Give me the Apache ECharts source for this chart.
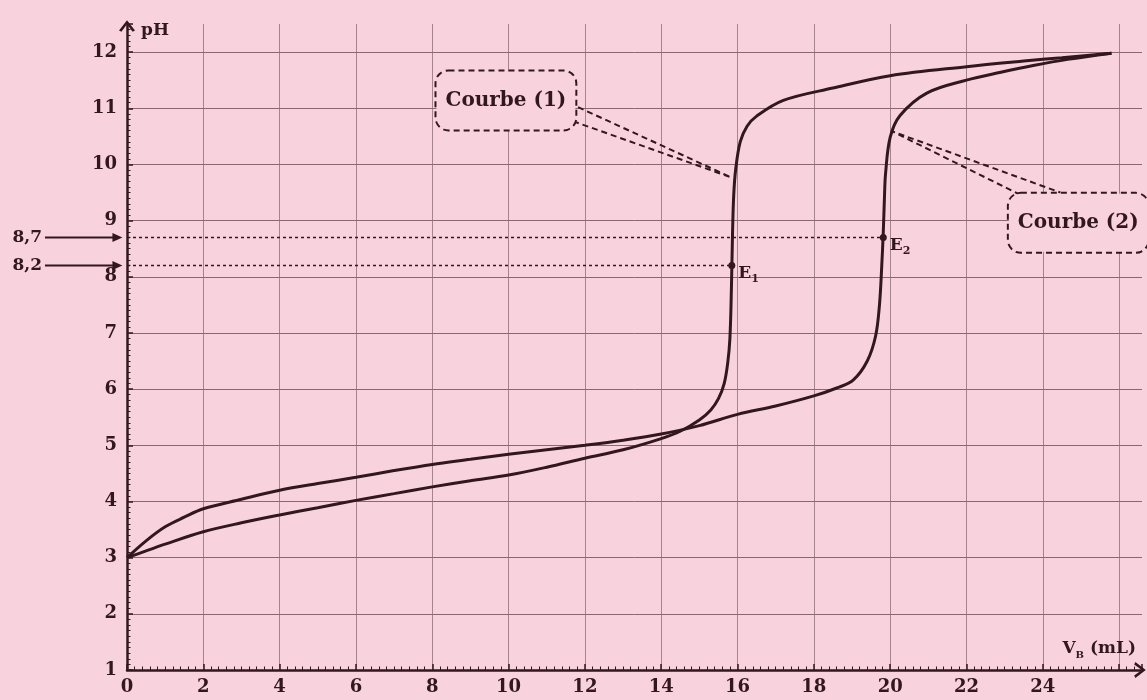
<!DOCTYPE html>
<html><head><meta charset="utf-8">
<script src="https://cdn.jsdelivr.net/npm/echarts@6/dist/echarts.min.js"></script>
<style>html,body{margin:0;padding:0;background:#f8d3dd}#c{width:1147px;height:700px}</style>
</head><body><div id="c"></div>
<script>
// ---- data ----
const curve1V  = [0, 0.5, 1, 2, 3, 4, 5, 6, 7, 8, 9, 10, 11, 12, 13, 14, 14.5, 15, 15.3, 15.5, 15.65, 15.74, 15.8, 15.84, 15.87, 15.9, 15.95, 16.07, 16.25, 16.5, 17.2, 18.5, 20, 22, 23.5, 24.5, 25.8];
const curve1PH = [3.0, 3.12, 3.24, 3.46, 3.62, 3.76, 3.89, 4.02, 4.14, 4.26, 4.37, 4.47, 4.61, 4.77, 4.92, 5.12, 5.25, 5.45, 5.63, 5.83, 6.1, 6.45, 6.9, 7.8, 8.8, 9.45, 9.9, 10.4, 10.68, 10.86, 11.14, 11.36, 11.58, 11.74, 11.84, 11.9, 11.98];
const curve2V  = [0, 0.5, 1, 1.5, 2, 3, 4, 5, 6, 7, 8, 9, 10, 11, 12, 13, 14, 15, 16, 17, 18, 18.6, 19.03, 19.4, 19.62, 19.72, 19.78, 19.82, 19.85, 19.88, 20.0, 20.26, 20.96, 22, 22.9, 23.75, 24.65, 25.8];
const curve2PH = [3.0, 3.3, 3.55, 3.72, 3.87, 4.04, 4.2, 4.32, 4.43, 4.55, 4.66, 4.75, 4.84, 4.92, 5.0, 5.09, 5.2, 5.35, 5.55, 5.7, 5.88, 6.02, 6.16, 6.5, 6.95, 7.5, 8.2, 8.8, 9.4, 9.84, 10.48, 10.87, 11.27, 11.5, 11.64, 11.76, 11.87, 11.98];
const eqNames  = ['1', '2'];
const eqV      = [15.85, 19.82];
const eqPH     = [8.2, 8.7];
const eqTexts  = ['8,2', '8,7'];
const xTickLabels = ['0','2','4','6','8','10','12','14','16','18','20','22','24'];
const yTickLabels = ['1','2','3','4','5','6','7','8','9','10','11','12'];
const curveNames  = ['Courbe (1)', 'Courbe (2)'];
// callout anchors (data coordinates)
const calloutV  = [9.93, 24.93];
const calloutPH = [11.14, 8.96];
const leader1V  = [11.82, 15.83, 11.77];
const leader1PH = [11.02, 9.77, 10.75];
const leader2V  = [23.41, 20.05, 24.46];
const leader2PH = [9.46, 10.59, 9.5];
const arrowStartV = -2.15, arrowEndV = -0.12;

// ---- styling ----
const INK = '#33171f';
const BG = '#f8d3dd';
const FONT = 'DejaVu Serif';
const zip = (a, b) => a.map((v, i) => [v, b[i]]);
const chevron = 'path://M10,0 L20,13 L17,14.5 L10,5 L3,14.5 L0,13 Z';

const series = [];
// titration curves
[[curve1V, curve1PH], [curve2V, curve2PH]].forEach((c, i) => {
  series.push({
    type: 'line', name: curveNames[i], data: zip(c[0], c[1]),
    showSymbol: false, smooth: 0.35,
    lineStyle: { color: INK, width: 3 }, z: 5
  });
});
// dotted guides to equivalence points
eqV.forEach((v, i) => {
  series.push({
    type: 'line', data: [[0, eqPH[i]], [v, eqPH[i]]], showSymbol: false,
    lineStyle: { color: INK, width: 1.6, type: [3, 3] }, z: 4, silent: true
  });
});
// left arrows "8,7" / "8,2" pointing at the pH axis
series.push({
  type: 'custom', clip: false, silent: true, z: 6,
  data: eqPH.map((p, i) => [arrowStartV, arrowEndV, p, i]),
  renderItem: function (params, api) {
    const a = api.coord([api.value(0), api.value(2)]);
    const b = api.coord([api.value(1), api.value(2)]);
    const txt = eqTexts[api.value(3)];
    return {
      type: 'group',
      children: [
        { type: 'line', shape: { x1: a[0], y1: a[1], x2: b[0] - 8, y2: b[1] },
          style: { stroke: INK, lineWidth: 2 } },
        { type: 'polygon', shape: { points: [[b[0], b[1]], [b[0] - 10, b[1] - 4.5], [b[0] - 10, b[1] + 4.5]] },
          style: { fill: INK } },
        { type: 'text', x: a[0] - 3, y: a[1],
          style: { text: txt, fill: INK, font: 'bold 17px "' + FONT + '"', align: 'right', verticalAlign: 'middle' } }
      ]
    };
  }
});
// equivalence points
series.push({
  type: 'scatter', z: 7, silent: true,
  data: eqV.map((v, i) => ({ value: [v, eqPH[i]], name: eqNames[i] })),
  symbolSize: 7, itemStyle: { color: INK, opacity: 1 },
  label: {
    show: true, position: 'right', distance: 3, offset: [0, 8], opacity: 1,
    formatter: p => '{a|E}{b|' + p.name + '}',
    rich: {
      a: { fontFamily: FONT, fontWeight: 'bold', fontSize: 17, color: INK, lineHeight: 22, verticalAlign: 'middle' },
      b: { fontFamily: FONT, fontWeight: 'bold', fontSize: 11, color: INK, lineHeight: 22, verticalAlign: 'bottom' }
    }
  }
});
// leader lines
[[leader1V, leader1PH], [leader2V, leader2PH]].forEach(l => {
  series.push({
    type: 'line', data: zip(l[0], l[1]), showSymbol: false, clip: false, silent: true,
    lineStyle: { color: INK, width: 2, type: [6, 4] }, z: 6
  });
});
// callout boxes
series.push({
  type: 'scatter', clip: false, silent: true, z: 8, symbolSize: 1,
  itemStyle: { color: 'rgba(0,0,0,0)', opacity: 1 },
  data: calloutV.map((v, i) => ({ value: [v, calloutPH[i]], name: curveNames[i] })),
  label: {
    show: true, position: 'inside', formatter: p => p.name, opacity: 1,
    fontFamily: FONT, fontWeight: 'bold', fontSize: 20, color: INK,
    borderColor: INK, borderWidth: 2, borderType: [6, 4], borderRadius: 12,
    padding: [20, 9, 18, 9], backgroundColor: BG
  }
});

const axisLabelStyle = { fontFamily: FONT, fontWeight: 'bold', fontSize: 18, color: INK };

const option = {
  backgroundColor: BG,
  animation: false,
  grid: { left: 127, right: 5, top: 24, bottom: 30, containLabel: false },
  xAxis: {
    type: 'value', min: 0, max: 26.6, interval: 2,
    name: '{v|V}{s|B}{v| (mL)}', nameLocation: 'end', nameGap: -6,
    nameTextStyle: {
      align: 'right', verticalAlign: 'bottom', padding: [0, 0, 10, 0],
      rich: {
        v: { fontFamily: FONT, fontWeight: 'bold', fontSize: 17, color: INK, lineHeight: 22, verticalAlign: 'middle' },
        s: { fontFamily: FONT, fontWeight: 'bold', fontSize: 10, color: INK, lineHeight: 22, verticalAlign: 'bottom' }
      }
    },
    axisLine: { onZero: false, lineStyle: { color: INK, width: 2.5 }, symbol: ['none', chevron], symbolSize: [16, 14], symbolOffset: [0, -2] },
    axisTick: { inside: true, length: 6, lineStyle: { color: INK, width: 1.5 } },
    minorTick: { show: true, splitNumber: 10, length: 3.5, lineStyle: { color: INK, width: 1 } },
    axisLabel: Object.assign({ margin: 8, showMaxLabel: false,
      formatter: v => xTickLabels.indexOf(String(v)) >= 0 ? String(v) : '' }, axisLabelStyle),
    splitLine: { show: true, showMaxLine: false, lineStyle: { color: '#8a6a75', width: 1, opacity: 0.75 } }
  },
  yAxis: {
    type: 'value', min: 1, max: 12.5, interval: 1,
    name: 'pH', nameLocation: 'end', nameGap: -7,
    nameTextStyle: { fontFamily: FONT, fontWeight: 'bold', fontSize: 17, color: INK, align: 'left', verticalAlign: 'middle', padding: [0, 0, 0, 14] },
    axisLine: { onZero: false, lineStyle: { color: INK, width: 2.5 }, symbol: ['none', chevron], symbolSize: [16, 14], symbolOffset: [0, -2] },
    axisTick: { inside: true, length: 6, lineStyle: { color: INK, width: 1.5 } },
    minorTick: { show: true, splitNumber: 10, length: 3.5, lineStyle: { color: INK, width: 1 } },
    axisLabel: Object.assign({ margin: 10, showMaxLabel: false,
      formatter: v => yTickLabels.indexOf(String(v)) >= 0 ? String(v) : '' }, axisLabelStyle),
    splitLine: { show: true, showMaxLine: false, lineStyle: { color: '#6e4c58', width: 1, opacity: 0.8 } }
  },
  series: series
};

const chart = echarts.init(document.getElementById('c'), null, { renderer: 'canvas' });
chart.setOption(option);
</script>
</body></html>
